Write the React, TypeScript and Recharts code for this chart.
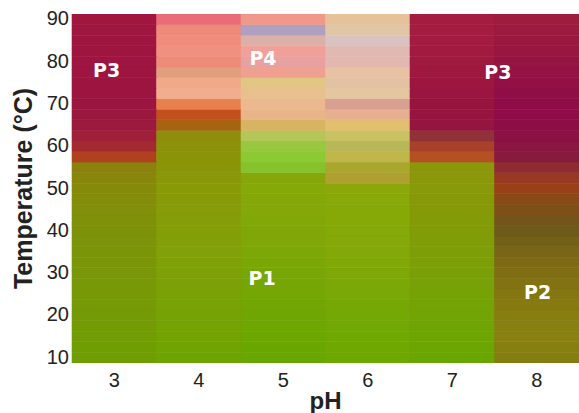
import React from 'react';
import { BarChart, Bar, XAxis, YAxis, Cell, ReferenceDot } from 'recharts';

// pH categories (one column each)
const PH = [3, 4, 5, 6, 7, 8];

// temperature band edges (°C), bottom to top
const TEMP_EDGES = [
  8.5, 11, 13.5, 16, 18.5, 21, 23.5, 26, 28.5, 31, 33.5, 36, 38.5, 41, 43.5, 46, 48.5,
  51, 53.5, 56, 58.5, 61, 63.5, 66, 68.5, 71, 73.5, 76, 78.5, 81, 83.5, 86, 88.5, 91,
];

const Y_TICKS = [10, 20, 30, 40, 50, 60, 70, 80, 90];

// cell colours per column, bottom band first
const COLORS_PH3 = [
  '#6e9e02', '#6f9d02', '#719c03', '#739b04', '#749b05', '#769a06', '#779906', '#789807',
  '#799708', '#7a9608', '#7b9508', '#7c9409', '#7e9209', '#7f9109', '#818f0a', '#838d0a',
  '#868a0b', '#88870c', '#8b820d', '#b0401e', '#a42a32', '#a0203a', '#9c1a3e', '#9a1840',
  '#9a1640', '#9b1540', '#9c1540', '#9d1540', '#9d1540', '#9e1540', '#9e1540', '#9f1640',
  '#a0163f',
];
const COLORS_PH4 = [
  '#6ea400', '#70a402', '#72a303', '#74a304', '#76a205', '#78a206', '#7aa206', '#7ca107',
  '#7ea107', '#80a008', '#82a008', '#839f08', '#849e08', '#859d08', '#869c08', '#879b08',
  '#889a08', '#899808', '#8a9608', '#8b9409', '#8c9209', '#8e8e0a', '#a66410', '#c24f1e',
  '#e8804e', '#f0ae8e', '#f0aa8a', '#e0a07e', '#ee8a78', '#f09080', '#f08c7c', '#ee8a7a',
  '#e96c78',
];
const COLORS_PH5 = [
  '#68a600', '#6aa600', '#6ca601', '#6ea602', '#70a603', '#72a604', '#74a604', '#76a605',
  '#78a606', '#7aa606', '#7ca707', '#7ea707', '#80a707', '#82a808', '#84a808', '#85a808',
  '#86a808', '#86a60a', '#86c22c', '#8cca34', '#98c840', '#b4c658', '#d8b462', '#e8b488',
  '#ecb890', '#e8c08e', '#e2c684', '#f0a090', '#e8a0a0', '#f0a098', '#dcb0a8', '#b0a0c0',
  '#f0988a',
];
const COLORS_PH6 = [
  '#6ca800', '#6ea800', '#70a802', '#72a803', '#74a804', '#76a805', '#7aa806', '#7ca807',
  '#7ea807', '#80a908', '#82a908', '#84a908', '#85a908', '#86a908', '#87a908', '#88a908',
  '#8aa80a', '#b0a032', '#aaa82c', '#c0b64a', '#b8b858', '#c8c262', '#e2c070', '#e6b090',
  '#d8a090', '#e4c6a0', '#e2c2a2', '#e8c2a2', '#e2b8b0', '#e0bab2', '#d8c2c2', '#e0c6a4',
  '#e6c29a',
];
const COLORS_PH7 = [
  '#6aa600', '#6ca602', '#6ea503', '#70a404', '#72a405', '#74a306', '#76a206', '#78a107',
  '#7aa007', '#7c9f08', '#7e9e08', '#809d08', '#829c08', '#849b08', '#869a08', '#879909',
  '#889909', '#8a980a', '#8c960a', '#b45022', '#a8402a', '#903038', '#951440', '#96143f',
  '#98143f', '#9a153f', '#9c163f', '#9e183f', '#a0193f', '#a21a40', '#a31b40', '#a41c40',
  '#a41c40',
];
const COLORS_PH8 = [
  '#847e10', '#868010', '#888010', '#888010', '#887e10', '#867a10', '#847610', '#827212',
  '#806e12', '#7c6a14', '#786616', '#726018', '#6e5a1a', '#745418', '#7e5018', '#8a4a18',
  '#9a4018', '#983a22', '#8e2c32', '#881a3e', '#8a1442', '#8c1044', '#8d0e46', '#8e0c48',
  '#8f0c47', '#900e46', '#921045', '#941244', '#961442', '#981640', '#9a183f', '#9c1a3e',
  '#9e1c3e',
];
const COLUMN_COLORS = [COLORS_PH3, COLORS_PH4, COLORS_PH5, COLORS_PH6, COLORS_PH7, COLORS_PH8];

// region labels: [pH, temperature, text]
const REGION_LABELS: [number, number, string][] = [
  [2.91, 77.8, 'P3'],
  [4.76, 80.6, 'P4'],
  [7.54, 77.3, 'P3'],
  [4.75, 28.6, 'P1'],
  [8.01, 25.3, 'P2'],
];

const BAND_KEYS = TEMP_EDGES.slice(1).map((_, i) => `b${i}`);

const data = PH.map((ph) => {
  const row: Record<string, number> = { ph, base: TEMP_EDGES[0] };
  BAND_KEYS.forEach((k, i) => {
    row[k] = TEMP_EDGES[i + 1] - TEMP_EDGES[i];
  });
  return row;
});

const axisFont = { fontFamily: 'Liberation Sans, Arial, sans-serif', fill: '#222' };

export default function App() {
  return (
    <div style={{ position: 'absolute', left: 0, top: 0 }}>
      <BarChart
        width={579}
        height={413}
        data={data}
        margin={{ top: 14, right: 0, bottom: 0, left: 0 }}
        barCategoryGap={0}
        barGap={0}
      >
        <XAxis
          dataKey="ph"
          axisLine={false}
          tickLine={false}
          tickSize={0}
          tickMargin={10}
          height={50}
          tick={{ ...axisFont, fontSize: 20 }}
          label={{
            value: 'pH',
            position: 'center',
            dy: 12,
            style: { ...axisFont, fontSize: 24, fontWeight: 700 },
          }}
        />
        <XAxis
          xAxisId="num"
          dataKey="ph"
          type="number"
          domain={[2.5, 8.5]}
          hide
          allowDataOverflow
        />
        <YAxis
          type="number"
          domain={[TEMP_EDGES[0], TEMP_EDGES[TEMP_EDGES.length - 1]]}
          ticks={Y_TICKS}
          interval={0}
          allowDataOverflow
          axisLine={false}
          tickLine={false}
          tickSize={0}
          tickMargin={3}
          width={72}
          tick={{ ...axisFont, fontSize: 20 }}
          label={{
            value: 'Temperature (°C)',
            angle: -90,
            position: 'center',
            dx: -13,
            style: { ...axisFont, fontSize: 25, fontWeight: 700, textAnchor: 'middle' },
          }}
        />
        <Bar dataKey="base" stackId="t" fill="transparent" isAnimationActive={false} />
        {BAND_KEYS.map((k, i) => (
          <Bar key={k} dataKey={k} stackId="t" isAnimationActive={false}>
            {PH.map((ph, j) => (
              <Cell
                key={`c-${ph}-${i}`}
                fill={COLUMN_COLORS[j][i]}
                stroke={COLUMN_COLORS[j][i]}
                strokeWidth={0.6}
              />
            ))}
          </Bar>
        ))}
        {REGION_LABELS.map(([ph, t, text], i) => (
          <ReferenceDot
            key={`lbl-${i}`}
            xAxisId="num"
            x={ph}
            y={t}
            r={0}
            fill="none"
            stroke="none"
            label={{
              value: text,
              position: 'center',
              fill: '#fff',
              fontSize: 19,
              fontWeight: 700,
              fontFamily: 'DejaVu Sans, sans-serif',
            }}
          />
        ))}
      </BarChart>
    </div>
  );
}
